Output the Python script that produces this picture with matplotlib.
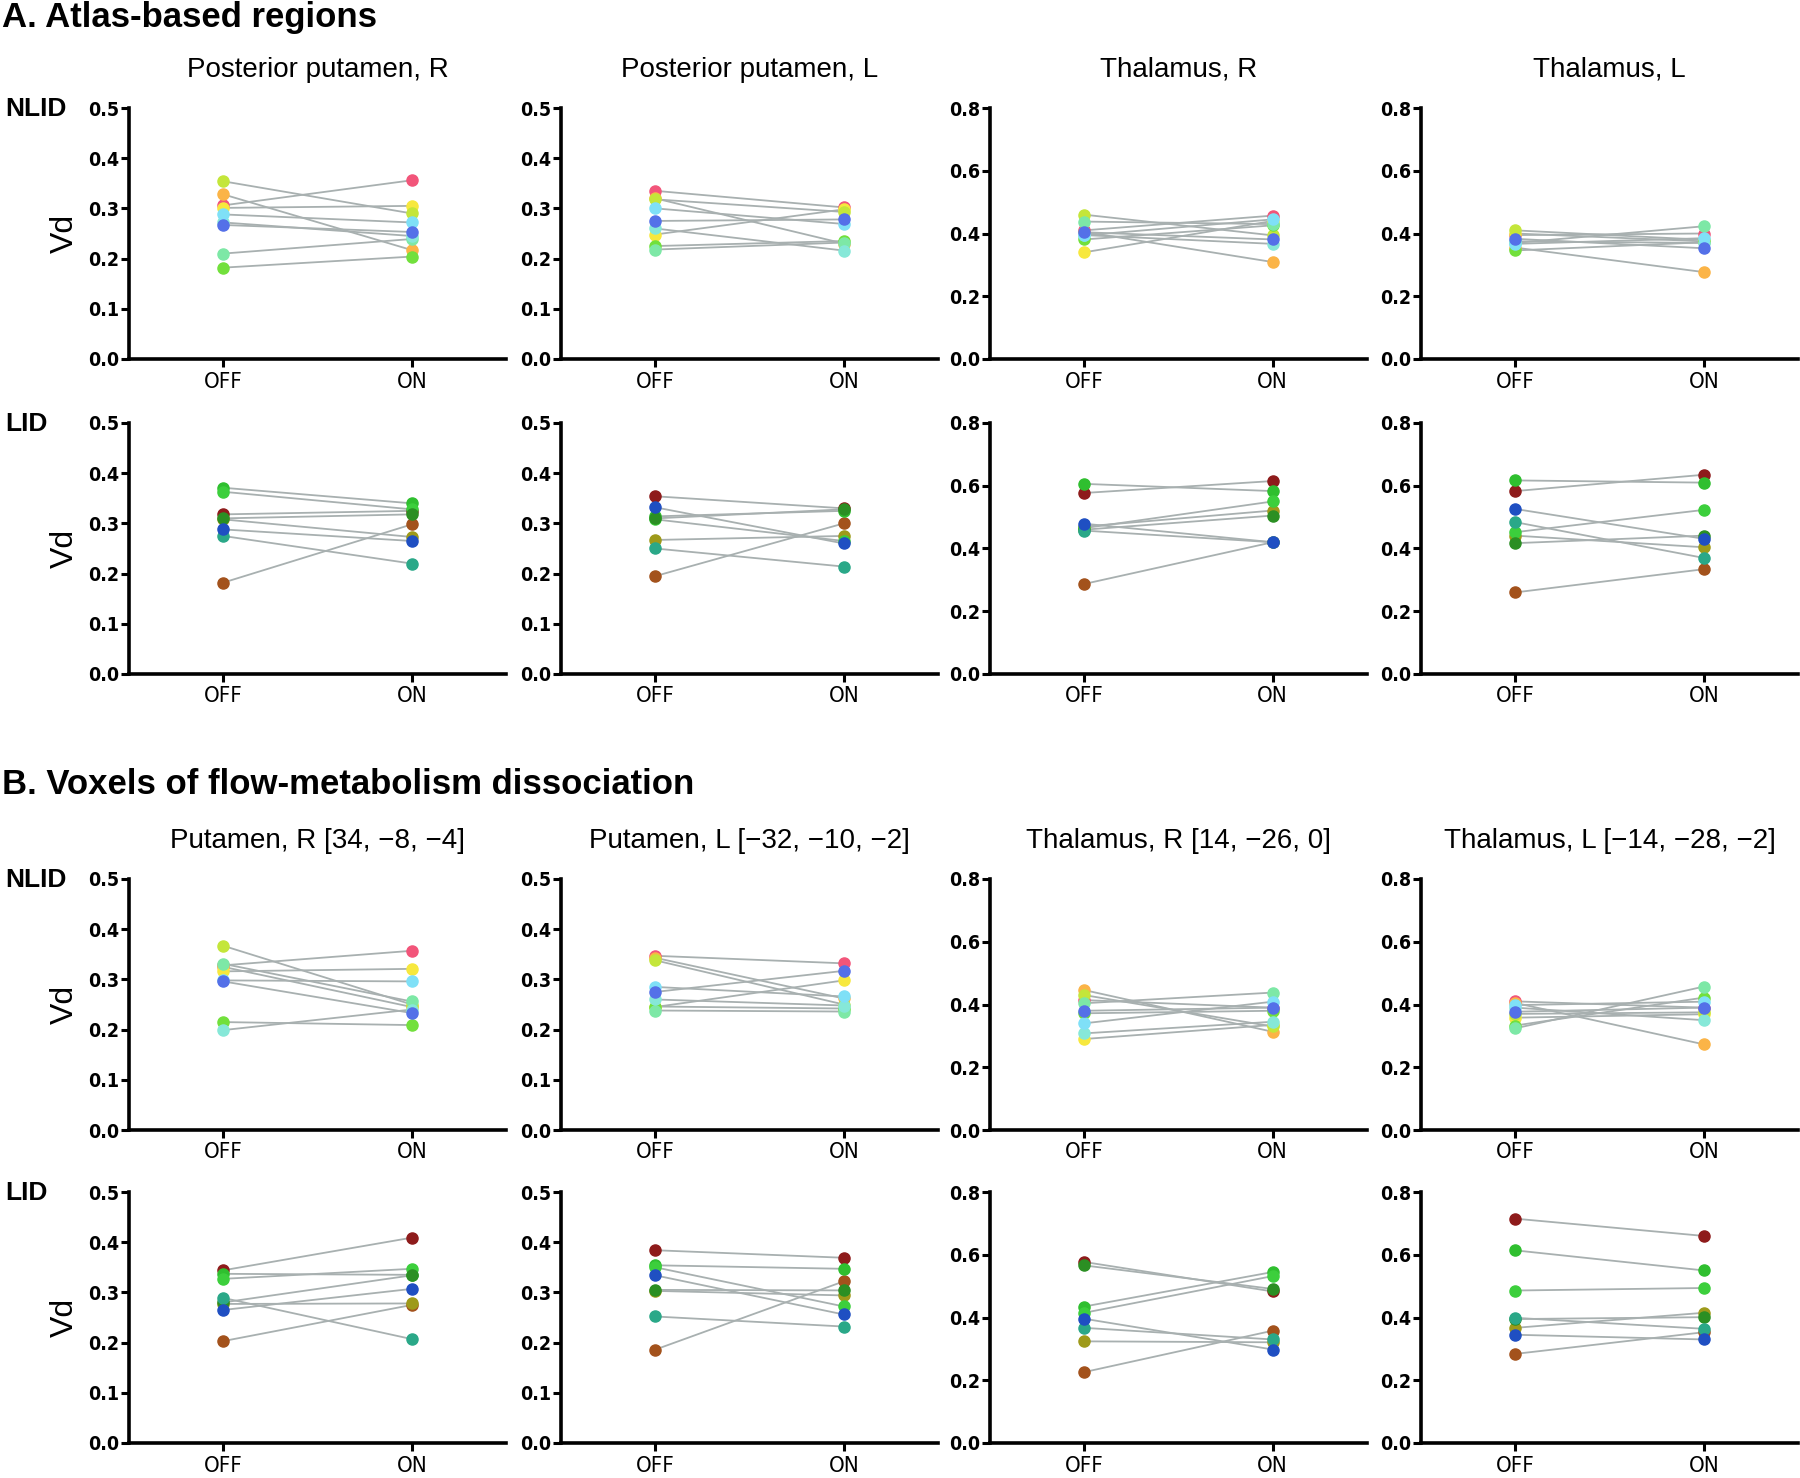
import matplotlib
matplotlib.use("Agg")
import matplotlib.pyplot as plt

# subject colours
nlid_colors = ['#f2557a', '#fbb447', '#f7e83e', '#c4e63a', '#72e03c',
               '#7de8a6', '#86e8d8', '#7fe0f7', '#5470e8']
lid_colors = ['#8e1b1b', '#a3521c', '#9e9a1a', '#2fbf2f', '#3ccf3c',
              '#2b8f23', '#2aa888', '#1f4fc2']

conditions = ['OFF', 'ON']

titles_a = ['Posterior putamen, R', 'Posterior putamen, L', 'Thalamus, R', 'Thalamus, L']
titles_b = ['Putamen, R [34, \u22128, \u22124]', 'Putamen, L [\u221232, \u221210, \u22122]',
            'Thalamus, R [14, \u221226, 0]', 'Thalamus, L [\u221214, \u221228, \u22122]']

# A. atlas-based regions, NLID (order: pink, orange, yellow, lime, green, mint, aqua, cyan, blue)
a_nlid_putR_off = [0.306, 0.328, 0.301, 0.354, 0.182, 0.210, 0.272, 0.288, 0.267]
a_nlid_putR_on = [0.356, 0.217, 0.305, 0.290, 0.204, 0.239, 0.245, 0.272, 0.253]
a_nlid_putL_off = [0.335, 0.320, 0.248, 0.318, 0.225, 0.218, 0.260, 0.300, 0.275]
a_nlid_putL_on = [0.302, 0.230, 0.298, 0.293, 0.235, 0.232, 0.216, 0.269, 0.278]
a_nlid_thR_off = [0.410, 0.405, 0.340, 0.460, 0.381, 0.438, 0.395, 0.394, 0.404]
a_nlid_thR_on = [0.457, 0.309, 0.440, 0.394, 0.426, 0.430, 0.367, 0.445, 0.381]
a_nlid_thL_off = [0.395, 0.355, 0.400, 0.410, 0.346, 0.370, 0.375, 0.367, 0.383]
a_nlid_thL_on = [0.400, 0.277, 0.375, 0.380, 0.372, 0.423, 0.370, 0.385, 0.353]

# A. atlas-based regions, LID (order: darkred, brown, olive, green, green2, darkgreen, teal, blue)
a_lid_putR_off = [0.318, 0.182, 0.308, 0.371, 0.363, 0.310, 0.275, 0.288]
a_lid_putR_on = [0.325, 0.298, 0.273, 0.340, 0.328, 0.318, 0.220, 0.265]
a_lid_putL_off = [0.354, 0.195, 0.267, 0.314, 0.308, 0.310, 0.250, 0.332]
a_lid_putL_on = [0.330, 0.300, 0.275, 0.325, 0.265, 0.328, 0.214, 0.260]
a_lid_thR_off = [0.577, 0.287, 0.470, 0.606, 0.465, 0.460, 0.457, 0.479]
a_lid_thR_on = [0.615, 0.420, 0.521, 0.583, 0.550, 0.505, 0.420, 0.420]
a_lid_thL_off = [0.583, 0.260, 0.441, 0.617, 0.452, 0.417, 0.484, 0.526]
a_lid_thL_on = [0.635, 0.334, 0.404, 0.610, 0.523, 0.441, 0.370, 0.431]

# B. voxels of flow-metabolism dissociation, NLID
b_nlid_putR_off = [0.328, 0.325, 0.316, 0.367, 0.215, 0.331, 0.199, 0.298, 0.296]
b_nlid_putR_on = [0.357, 0.245, 0.321, 0.250, 0.209, 0.256, 0.240, 0.296, 0.233]
b_nlid_putL_off = [0.347, 0.343, 0.245, 0.338, 0.246, 0.238, 0.260, 0.285, 0.275]
b_nlid_putL_on = [0.332, 0.262, 0.298, 0.250, 0.242, 0.236, 0.248, 0.266, 0.317]
b_nlid_thR_off = [0.414, 0.446, 0.290, 0.430, 0.372, 0.404, 0.308, 0.340, 0.380]
b_nlid_thR_on = [0.390, 0.313, 0.335, 0.330, 0.380, 0.438, 0.345, 0.409, 0.390]
b_nlid_thL_off = [0.410, 0.405, 0.358, 0.370, 0.333, 0.324, 0.390, 0.398, 0.377]
b_nlid_thL_on = [0.390, 0.273, 0.369, 0.375, 0.422, 0.457, 0.350, 0.409, 0.390]

# B. voxels of flow-metabolism dissociation, LID
b_lid_putR_off = [0.344, 0.203, 0.277, 0.337, 0.327, 0.280, 0.289, 0.265]
b_lid_putR_on = [0.409, 0.275, 0.278, 0.335, 0.347, 0.334, 0.207, 0.307]
b_lid_putL_off = [0.384, 0.186, 0.303, 0.354, 0.350, 0.305, 0.252, 0.334]
b_lid_putL_on = [0.369, 0.322, 0.294, 0.347, 0.272, 0.304, 0.232, 0.256]
b_lid_thR_off = [0.577, 0.226, 0.324, 0.435, 0.415, 0.566, 0.367, 0.396]
b_lid_thR_on = [0.483, 0.358, 0.321, 0.545, 0.532, 0.491, 0.330, 0.298]
b_lid_thL_off = [0.715, 0.284, 0.367, 0.614, 0.486, 0.395, 0.399, 0.345]
b_lid_thL_on = [0.660, 0.353, 0.415, 0.550, 0.494, 0.401, 0.364, 0.330]

rows = [
    [(a_nlid_putR_off, a_nlid_putR_on), (a_nlid_putL_off, a_nlid_putL_on),
     (a_nlid_thR_off, a_nlid_thR_on), (a_nlid_thL_off, a_nlid_thL_on)],
    [(a_lid_putR_off, a_lid_putR_on), (a_lid_putL_off, a_lid_putL_on),
     (a_lid_thR_off, a_lid_thR_on), (a_lid_thL_off, a_lid_thL_on)],
    [(b_nlid_putR_off, b_nlid_putR_on), (b_nlid_putL_off, b_nlid_putL_on),
     (b_nlid_thR_off, b_nlid_thR_on), (b_nlid_thL_off, b_nlid_thL_on)],
    [(b_lid_putR_off, b_lid_putR_on), (b_lid_putL_off, b_lid_putL_on),
     (b_lid_thR_off, b_lid_thR_on), (b_lid_thL_off, b_lid_thL_on)],
]
row_colors = [nlid_colors, lid_colors, nlid_colors, lid_colors]
row_labels = ['NLID', 'LID', 'NLID', 'LID']

W, H = 1800, 1478
fig = plt.figure(figsize=(W / 100, H / 100), dpi=100)

plain = ['Liberation Sans', 'DejaVu Sans']

col_left = [129, 561, 990, 1421]
ax_w = 377
row_top = [108, 423, 879, 1192]
ax_h = 251

for r in range(4):
    for c in range(4):
        left = col_left[c] / W
        bottom = 1 - (row_top[r] + ax_h) / H
        ax = fig.add_axes([left, bottom, ax_w / W, ax_h / H])
        off, on = rows[r][c]
        for i in range(len(off)):
            ax.plot([0, 1], [off[i], on[i]], color='#a8b0b0', lw=1.3, zorder=1)
        for i in range(len(off)):
            ax.plot([0, 1], [off[i], on[i]], ls='none', marker='o', ms=8,
                    color=row_colors[r][i], mec=row_colors[r][i], zorder=2)
        ymax = 0.5 if c < 2 else 0.8
        step = 0.1 if c < 2 else 0.2
        ax.set_xlim(-0.5, 1.5)
        ax.set_ylim(0, ymax)
        ticks = [round(step * k, 1) for k in range(int(round(ymax / step)) + 1)]
        ax.set_yticks(ticks)
        ax.set_yticklabels(['%.1f' % t for t in ticks], family='DejaVu Sans',
                           fontstretch='condensed', fontweight='bold', fontsize=14)
        ax.set_xticks([0, 1])
        ax.set_xticklabels(conditions, family='DejaVu Sans', fontstretch='condensed',
                           fontsize=16)
        ax.spines['top'].set_visible(False)
        ax.spines['right'].set_visible(False)
        ax.spines['left'].set_linewidth(2.6)
        ax.spines['bottom'].set_linewidth(2.6)
        ax.tick_params(axis='both', width=2.2, length=6, pad=3)
        ax.tick_params(axis='y', pad=1)
        if c == 0:
            ax.set_ylabel('Vd', family=plain, fontsize=23, labelpad=6)
        if r in (0, 2):
            title = titles_a[c] if r == 0 else titles_b[c]
            fig.text((col_left[c] + ax_w / 2) / W, 1 - (row_top[r] - 38) / H, title,
                     family=plain, fontsize=20, ha='center', va='center')
    fig.text(5 / W, 1 - (row_top[r] + 1) / H, row_labels[r], family=plain,
             fontweight='bold', fontsize=19, ha='left', va='center')

fig.text(2 / W, 1 - 17 / H, 'A. Atlas-based regions', family=plain,
         fontweight='bold', fontsize=25, ha='left', va='center')
fig.text(2 / W, 1 - 785 / H, 'B. Voxels of flow-metabolism dissociation', family=plain,
         fontweight='bold', fontsize=25, ha='left', va='center')

fig.savefig('out.png', dpi=100)
